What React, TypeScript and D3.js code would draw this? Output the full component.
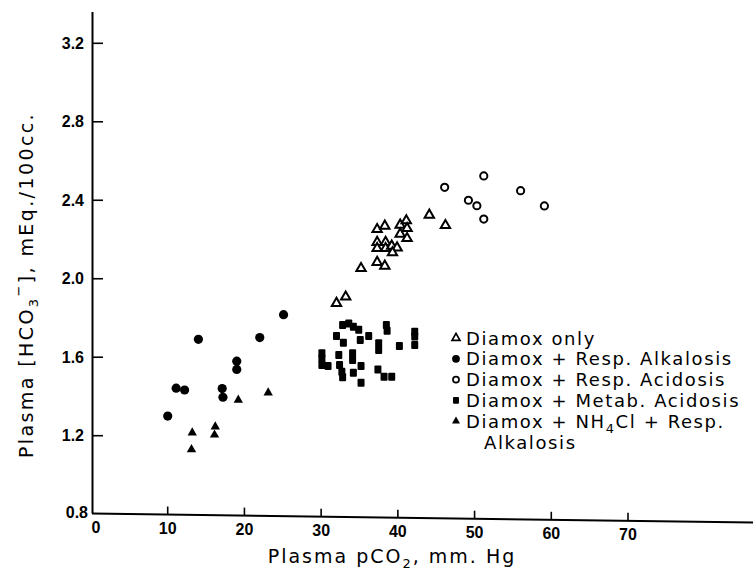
import React from "react";
import * as d3 from "d3";

const xTicks = [0, 10, 20, 30, 40, 50, 60, 70];
const yTicks = [0.8, 1.2, 1.6, 2.0, 2.4, 2.8, 3.2];

// Diamox only (open triangles)
const diamoxOnly: [number, number][] = [
  [32.0, 1.875], [33.2, 1.908], [35.2, 2.053], [37.3, 2.084], [38.3, 2.065],
  [37.3, 2.186], [37.3, 2.155], [38.4, 2.186], [38.4, 2.155], [39.2, 2.167],
  [39.9, 2.158], [39.3, 2.133], [37.3, 2.252], [38.3, 2.269], [40.3, 2.274],
  [41.1, 2.296], [41.2, 2.257], [40.3, 2.228], [41.2, 2.206], [44.1, 2.325],
  [46.2, 2.272],
];
// Diamox + Resp. Alkalosis (filled circles)
const respAlkalosis: [number, number][] = [
  [10.0, 1.30], [11.1, 1.442], [12.2, 1.433], [14.0, 1.691], [17.1, 1.44],
  [17.2, 1.396], [19.0, 1.58], [19.0, 1.538], [22.0, 1.70], [25.1, 1.817],
];
// Diamox + Resp. Acidosis (open circles)
const respAcidosis: [number, number][] = [
  [46.1, 2.466], [51.2, 2.524], [49.2, 2.40], [50.3, 2.372], [51.2, 2.304],
  [56.0, 2.449], [59.1, 2.371],
];
// Diamox + Metab. Acidosis (filled squares)
const metabAcidosis: [number, number][] = [
  [32.8, 1.764], [33.6, 1.772], [34.2, 1.755], [34.9, 1.74], [32.0, 1.708],
  [32.9, 1.674], [36.2, 1.708], [35.1, 1.688], [38.5, 1.764], [38.6, 1.735],
  [37.5, 1.671], [37.5, 1.637], [40.2, 1.657], [42.2, 1.73], [42.2, 1.705],
  [42.2, 1.662], [30.1, 1.62], [30.1, 1.594], [30.1, 1.56], [30.9, 1.555],
  [32.3, 1.611], [32.4, 1.56], [32.7, 1.526], [32.8, 1.498], [34.1, 1.62],
  [34.1, 1.586], [34.2, 1.521], [35.2, 1.555], [35.2, 1.47], [37.4, 1.538],
  [38.2, 1.50], [39.2, 1.50],
];
// Diamox + NH4Cl + Resp. Alkalosis (filled triangles)
const nh4clAlkalosis: [number, number][] = [
  [13.2, 1.215], [13.1, 1.13], [16.2, 1.246], [16.1, 1.204], [19.2, 1.382],
  [23.1, 1.419],
];

const legendLabels = [
  "Diamox only",
  "Diamox + Resp.  Alkalosis",
  "Diamox + Resp.  Acidosis",
  "Diamox + Metab. Acidosis",
  "Diamox + NH4Cl + Resp.",
];

const x = d3.scaleLinear().domain([0, 70]).range([91, 628]);
const y = d3.scaleLinear().domain([1.2, 3.2]).range([435.7, 43.3]);

const tilt = (px: number) => ((px - 91) * 9) / 661;
const axisY = 513.5;

type Kind = "triOpen" | "circFill" | "circOpen" | "square" | "triFill";

function Marker({ kind, cx, cy, s = 1 }: { kind: Kind; cx: number; cy: number; s?: number }) {
  const triPath = d3.symbol(d3.symbolTriangle, 38 * s * s)();
  if (kind === "triOpen")
    return (
      <path d={triPath as string} transform={`translate(${cx},${cy})`} fill="white" stroke="black" strokeWidth={2 * s} />
    );
  if (kind === "triFill")
    return <path d={triPath as string} transform={`translate(${cx},${cy})`} fill="black" />;
  if (kind === "circFill") return <circle cx={cx} cy={cy} r={4.6 * s} fill="black" />;
  if (kind === "circOpen")
    return <circle cx={cx} cy={cy} r={3.6 * s} fill="white" stroke="black" strokeWidth={2 * s} />;
  return <rect x={cx - 3.5 * s} y={cy - 4 * s} width={7 * s} height={8 * s} rx={1} fill="black" />;
}

function LegendText({ label, x0, y0, font }: { label: string; x0: number; y0: number; font: string }) {
  const idx = label.indexOf("NH4");
  const common = {
    x: x0,
    y: y0,
    dominantBaseline: "central" as const,
    fontFamily: font,
    fontSize: 18,
    letterSpacing: 1.6,
  };
  if (idx < 0) return <text {...common}>{label}</text>;
  return (
    <text {...common}>
      {label.slice(0, idx + 2)}
      <tspan baselineShift="sub" fontSize={13}>4</tspan>
      {label.slice(idx + 3)}
    </text>
  );
}

export default function App() {
  const series: { kind: Kind; data: [number, number][] }[] = [
    { kind: "square", data: metabAcidosis },
    { kind: "circFill", data: respAlkalosis },
    { kind: "triFill", data: nh4clAlkalosis },
    { kind: "triOpen", data: diamoxOnly },
    { kind: "circOpen", data: respAcidosis },
  ];
  const legendKinds: Kind[] = ["triOpen", "circFill", "circOpen", "square", "triFill"];
  const tickFont = "'Liberation Sans', Arial, sans-serif";
  const titleFont = "'DejaVu Sans', sans-serif";
  return (
    <svg width={755} height={579} style={{ position: "absolute", left: 0, top: 0, background: "white" }}>
      <rect width={755} height={579} fill="white" />
      {/* y axis */}
      <line x1={92.5} x2={92.5} y1={12} y2={axisY} stroke="black" strokeWidth={2} />
      {yTicks.map((t) => (
        <g key={t}>
          {t > 0.8 && <line x1={92.5} x2={103} y1={y(t)} y2={y(t)} stroke="black" strokeWidth={1.6} />}
          <text
            x={t === 0.8 ? 88 : 84}
            y={t === 0.8 ? y(t) - 2 : y(t)}
            textAnchor="end"
            dominantBaseline="central"
            fontFamily={tickFont}
            fontWeight="bold"
            fontSize={16}
          >
            {t.toFixed(1)}
          </text>
        </g>
      ))}
      {/* x axis (slightly tilted like the original) */}
      <line x1={92} x2={753} y1={axisY} y2={axisY + tilt(753)} stroke="black" strokeWidth={2} />
      {xTicks.map((t) => {
        const px = x(t);
        const base = axisY + tilt(px);
        return (
          <g key={t}>
            {t > 0 && <line x1={px} x2={px} y1={base} y2={base - 8} stroke="black" strokeWidth={1.6} />}
            <text
              x={t === 0 ? 96 : px}
              y={base + 14}
              textAnchor="middle"
              dominantBaseline="central"
              fontFamily={tickFont}
              fontWeight="bold"
              fontSize={16}
            >
              {t}
            </text>
          </g>
        );
      })}
      {/* axis titles */}
      <text
        x={392}
        y={556}
        textAnchor="middle"
        fontFamily={titleFont}
        fontSize={19}
        letterSpacing={2}
        dominantBaseline="central"
      >
        Plasma  pCO<tspan baselineShift="sub" fontSize={13}>2</tspan>, mm. Hg
      </text>
      <text
        transform="translate(26,285) rotate(-90)"
        textAnchor="middle"
        fontFamily={titleFont}
        fontSize={19}
        letterSpacing={2.4}
        dominantBaseline="central"
      >
        Plasma [HCO<tspan baselineShift="sub" fontSize={13}>3</tspan>
        <tspan baselineShift="super" fontSize={13}>−</tspan>], mEq./100cc.
      </text>
      {/* points */}
      {series.map((s) =>
        s.data.map((d, i) => <Marker key={s.kind + i} kind={s.kind} cx={x(d[0])} cy={y(d[1])} />)
      )}
      {/* legend */}
      {legendLabels.map((l, i) => {
        const ly = 338 + i * 20.8;
        return (
          <g key={l}>
            <Marker kind={legendKinds[i]} cx={456} cy={ly} s={0.85} />
            <LegendText label={l} x0={466} y0={ly} font={titleFont} />
          </g>
        );
      })}
      <LegendText label="Alkalosis" x0={484} y0={338 + 5 * 20.8} font={titleFont} />
    </svg>
  );
}
